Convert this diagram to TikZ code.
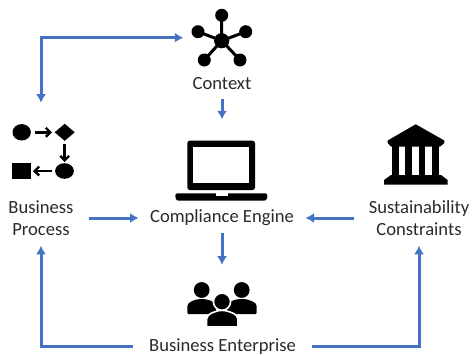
\documentclass[tikz,border=0pt]{standalone}
\usepackage{fontspec}
\setmainfont{Carlito}
\usetikzlibrary{arrows.meta}
\definecolor{flowblue}{HTML}{4472C4}
\definecolor{labeltext}{HTML}{2B2B2B}
\tikzset{
  x=1pt,y=-1pt,
  flow/.style={draw=flowblue,line width=3pt,-{Latex[length=8.5pt,width=10pt]}},
  twoway/.style={draw=flowblue,line width=3pt,{Latex[length=8.5pt,width=10pt]}-{Latex[length=8.5pt,width=10pt]},line join=miter},
  label box/.style={inner sep=0pt,outer sep=0pt,align=center,text=labeltext,font=\fontsize{18.6}{22.5}\selectfont},
  icon box/.style={inner sep=0pt,outer sep=0pt},
  ink/.style={fill=black,draw=none},
  wire/.style={draw=black,line width=3pt},
  pointer/.style={draw=black,line width=2.8pt,-{Straight Barb[length=4.5pt,width=9pt,line width=2.4pt]}},
  halo/.style={fill=black,draw=white,line width=1.6pt},
}
\begin{document}
\begin{tikzpicture}
\useasboundingbox (0,0) rectangle (472,356);
\fill[white] (0,0) rectangle (472,356);

% Context icon
\draw[wire] (221.7,40.7) -- (221.7,15.3) (221.7,40.7) -- (198,31.7) (221.7,40.7) -- (245.7,31.7)
            (221.7,40.7) -- (204.3,60) (221.7,40.7) -- (240,60);
\fill[ink] (221.7,40.7) circle[radius=7.6];
\foreach \px/\py in {221.7/15.3,198/31.7,245.7/31.7,204.3/60,240/60}
  \fill[ink] (\px,\py) circle[radius=6.5];

% Business process icon
\fill[ink] (21.7,132.3) ellipse[x radius=9.2,y radius=8.2];
\fill[ink] (54.7,132.3) -- (64.7,123.8) -- (74.7,132.3) -- (64.7,140.8) -- cycle;
\fill[ink] (64.5,171) ellipse[x radius=9.4,y radius=7.8];
\fill[ink] (12.3,163.3) rectangle (30.7,178.7);
\draw[pointer] (34.7,132.3) -- (52,132.3);
\draw[pointer] (64.7,144.3) -- (64.7,162);
\draw[pointer] (51.7,171) -- (33,171);

% Laptop icon
\fill[ink,rounded corners=2.5pt] (187.3,190) -- (187.3,140.7) -- (255,140.7) -- (255,190) -- cycle;
\fill[white] (193.3,146.7) rectangle (249,183.3);
\fill[ink,rounded corners=2.5pt] (175,193.3) -- (267.7,193.3) -- (266.7,200.7) -- (176,200.7) -- cycle;
\fill[white] (215.7,193) rectangle (227.7,195.6);

% Bank icon
\fill[ink] (415.7,124.3) -- (444.3,140.5) -- (444.3,143) -- (440,146.7) -- (391,146.7) -- (387.7,143) -- (387.7,140.5) -- cycle;
\fill[ink] (392.3,146) rectangle (399,175.5);
\fill[ink] (405,146) rectangle (411.7,175.5);
\fill[ink] (419,146) rectangle (425,175.5);
\fill[ink] (432.3,146) rectangle (439,175.5);
\fill[ink] (391,175) -- (441,175) -- (447.7,180) -- (447.7,184.5) -- (384,184.5) -- (384,180) -- cycle;

% People icon
\fill[ink] (201.7,290) circle[radius=7.9];
\fill[ink] (241.7,290) circle[radius=7.9];
\fill[ink,rounded corners=1pt] (187.3,314) -- (187.3,307) .. controls (187.3,302) and (196,299) .. (201.7,299) .. controls (208,299) and (216,302) .. (216,307) -- (216,314) -- cycle;
\fill[ink,rounded corners=1pt] (227,314) -- (227,307) .. controls (227,302) and (235,299) .. (241.7,299) .. controls (248,299) and (256.7,302) .. (256.7,307) -- (256.7,314) -- cycle;
\draw[halo] (222,301.7) circle[radius=8.6];
\draw[halo] (206.6,327) -- (206.6,319) .. controls (206.6,314) and (216,310.4) .. (222,310.4) .. controls (228,310.4) and (238,314) .. (238,319) -- (238,327) -- cycle;

% Connector anchor boxes and labels
\node[icon box,minimum width=76.8pt,minimum height=40pt] (contextIcon) at (221.7,37.7) {};
\node[icon box,minimum width=70pt,minimum height=94.6pt] (processIcon) at (41,150) {};
\node[icon box,minimum width=100pt,minimum height=101.4pt] (laptopIcon) at (222,170) {};
\node[icon box,minimum width=70pt,minimum height=80.6pt] (peopleIcon) at (222,305) {};

\node[label box,minimum height=31.6pt] (contextLabel) at (222,83.5) {Context};
\node[label box,minimum width=167pt,minimum height=30pt] (engineLabel) at (222,218) {Compliance Engine};
\node[label box,minimum width=96pt,minimum height=55.6pt] (processLabel) at (41,218) {Business\\Process};
\node[label box,minimum width=129.4pt,minimum height=55.6pt] (sustainLabel) at (419,218) {Sustainability\\Constraints};
\node[label box,minimum width=179pt] (enterpriseLabel) at (222.5,346.8) {Business Enterprise};

% Connectors
\draw[twoway] (processIcon.north) |- (contextIcon.west);
\draw[flow] (contextLabel.south) -- (laptopIcon.north);
\draw[flow] (processLabel.east) -- (engineLabel.west);
\draw[flow] (sustainLabel.west) -- (engineLabel.east);
\draw[flow] (engineLabel.south) -- (peopleIcon.north);
\draw[flow] (enterpriseLabel.west) -| (processLabel.south);
\draw[flow] (enterpriseLabel.east) -| (sustainLabel.south);
\end{tikzpicture}
\end{document}
